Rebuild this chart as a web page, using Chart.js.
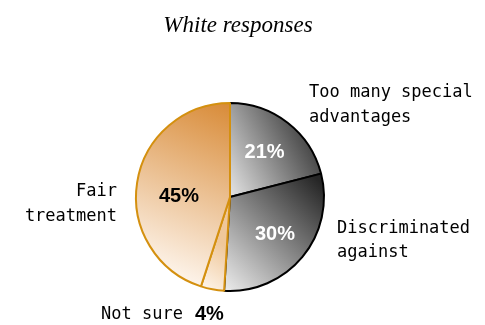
<!DOCTYPE html>
<html>
<head>
<meta charset="utf-8">
<script src="https://cdn.jsdelivr.net/npm/chart.js@4"></script>
<style>
  html, body { margin: 0; padding: 0; background: #fff; }
  #wrap { width: 485px; height: 325px; }
</style>
</head>
<body>
<div id="wrap"><canvas id="pie" width="485" height="325"></canvas></div>
<script>
// data
const categorias = ['Too many special advantages', 'Discriminated against', 'Not sure', 'Fair treatment'];
const valores = [21, 30, 4, 45];
const rotulos = [['Too many special', 'advantages'], ['Discriminated', 'against'], ['Not sure'], ['Fair', 'treatment']];
const titulo = 'White responses';

// gradient stops per slice: [light, dark]
const tons = [
    ['#f4f4f4', '#3a3a3a'],
    ['#f2f2f2', '#262626'],
    ['#fff8f0', '#efc79a'],
    ['#fdf3e9', '#d88a36']
];
const bordas = ['#000000', '#000000', '#d4900f', '#d4900f'];

// builds a linear gradient for slice i using the chart area geometry
function gradiente(context) {
    const chart = context.chart;
    const area = chart.chartArea;
    if (!area) return tons[context.dataIndex][0];
    const c = chart.ctx;
    const cx = (area.left + area.right) / 2;
    const cy = (area.top + area.bottom) / 2;
    const r = Math.min(area.right - area.left, area.bottom - area.top) / 2;
    const i = context.dataIndex;
    let g;
    if (i == 0) {
        g = c.createLinearGradient(cx - 5, cy + 10, cx + r, cy - r * 0.45);
    } else if (i == 1) {
        g = c.createLinearGradient(cx - 10, cy + r, cx + r, cy - 10);
    } else if (i == 2) {
        g = c.createLinearGradient(cx - r * 0.3, cy + r, cx, cy + r * 0.55);
    } else {
        g = c.createLinearGradient(cx - r * 0.75, cy + r * 0.75, cx, cy - r);
    }
    g.addColorStop(0, tons[i][0]);
    g.addColorStop(1, tons[i][1]);
    return g;
}

// title + labels drawn off the arcs
const rotulosPlugin = {
    id: 'rotulos',
    afterDatasetsDraw(chart) {
        const meta = chart.getDatasetMeta(0);
        const c = chart.ctx;
        c.save();
        // titulo
        c.font = 'italic 23px "Liberation Serif", "Times New Roman", serif';
        c.fillStyle = '#000';
        c.textAlign = 'center';
        c.textBaseline = 'alphabetic';
        c.fillText(titulo, 238, 32);

        c.textBaseline = 'middle';
        meta.data.forEach(function (arc, i) {
            const mid = (arc.startAngle + arc.endAngle) / 2;
            const R = arc.outerRadius;
            // percentage inside slice
            const fr = [0.6, 0.62, 0, 0.55][i];
            c.font = 'bold 20px "Liberation Sans", Arial, sans-serif';
            if (i != 2) {
                const px = arc.x + Math.cos(mid) * R * fr;
                const py = arc.y + Math.sin(mid) * R * fr;
                c.fillStyle = (i == 3) ? '#000' : '#fff';
                c.textAlign = 'center';
                c.fillText(valores[i] + '%', px, i == 3 ? py + 8 : py);
            }
            // category label outside
            c.font = '17px "DejaVu Sans Mono", monospace';
            c.fillStyle = '#000';
            const linhas = rotulos[i];
            if (i == 0) {
                c.textAlign = 'left';
                c.fillText(linhas[0], arc.x + 79, arc.y - 104);
                c.fillText(linhas[1], arc.x + 79, arc.y - 79);
            } else if (i == 1) {
                c.textAlign = 'left';
                c.fillText(linhas[0], arc.x + 107, arc.y + 32);
                c.fillText(linhas[1], arc.x + 107, arc.y + 56);
            } else if (i == 2) {
                c.textAlign = 'right';
                c.fillText(linhas[0], arc.x - 47, arc.y + 118);
                c.font = 'bold 20px "Liberation Sans", Arial, sans-serif';
                c.textAlign = 'left';
                c.fillText(valores[i] + '%', arc.x - 35, arc.y + 117);
            } else {
                c.textAlign = 'right';
                c.fillText(linhas[0], arc.x - 113, arc.y - 5);
                c.fillText(linhas[1], arc.x - 113, arc.y + 20);
            }
        });
        c.restore();
    }
};

const ctx = document.getElementById('pie').getContext('2d');
const grafico = new Chart(ctx, {
    type: 'pie',
    data: {
        labels: categorias,
        datasets: [{
            data: valores,
            backgroundColor: gradiente,
            borderColor: bordas,
            borderWidth: 2
        }]
    },
    options: {
        responsive: false,
        animation: false,
        layout: {
            padding: { left: 135, right: 160, top: 102, bottom: 33 }
        },
        plugins: {
            legend: { display: false },
            tooltip: { enabled: false },
            title: { display: false }
        }
    },
    plugins: [rotulosPlugin]
});
</script>
</body>
</html>
